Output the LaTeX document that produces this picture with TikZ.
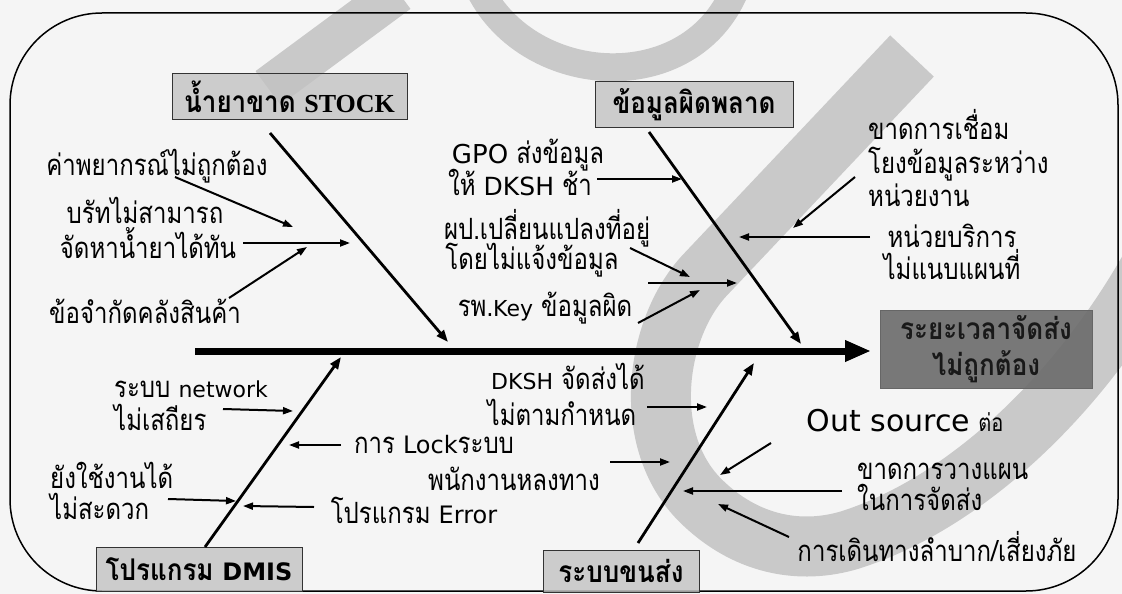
\documentclass[tikz,border=0pt]{standalone}
\usepackage{fontspec}
\usetikzlibrary{arrows.meta}
\newfontfamily\thai[Script=Thai]{Loma}
\newfontfamily\lat{DejaVu Sans}
\newfontfamily\romb{Liberation Serif}
% Thai runs are set a little taller than the font's natural shape
\newcommand{\tall}[1]{\scalebox{1}[1.22]{#1}}
\newcommand{\tallb}[1]{\scalebox{1}[1.15]{#1}}
\newcommand{\en}[2]{{\lat\fontsize{#1}{#1}\selectfont #2}}

\tikzset{
  wm/.style={draw=black!21, line cap=butt},
  txt/.style={font=\thai\fontsize{24}{28}\selectfont, inner sep=0pt, anchor=base},
  txtl/.style={txt, anchor=base west},
  catbox/.style={draw=black!80, line width=1pt, fill=black!24, fill opacity=0.8, text opacity=1,
    inner sep=0pt, font=\thai\bfseries\fontsize{26}{30}\selectfont},
  effbox/.style={draw=black!60, line width=0.6pt, fill=black!58, fill opacity=0.9, text opacity=1,
    inner sep=0pt, align=center, text=black!90, font=\thai\bfseries\fontsize{26}{36}\selectfont},
  spine/.style={line width=7pt, -{Triangle[length=26pt,width=20pt]}},
  bone/.style={line width=2.8pt, -{Triangle[length=12pt,width=9pt]}},
  sub/.style={line width=2pt, -{Triangle[length=10pt,width=7pt]}},
}

\begin{document}
\begin{tikzpicture}[x=1pt,y=-1pt]
\useasboundingbox (0,0) rectangle (1122,594);
\clip (0,0) rectangle (1122,594);
\fill[black!4] (0,0) rectangle (1122,594);

% background mark
\draw[wm, line width=42pt] (398,-8) -- (268,88);
\draw[wm, line width=28pt] (480,-10) .. controls (530,88) and (690,98) .. (735,-10);
\draw[wm, line width=60pt] (912,56) -- (705,275)
  .. controls (655,328) and (640,440) .. (700,500)
  .. controls (745,545) and (800,555) .. (850,540)
  .. controls (960,505) and (1080,400) .. (1160,250);

% frame
\draw[line width=1.5pt, rounded corners=92pt] (10,13) rectangle (1118,591);

% category boxes and effect
\node[catbox, minimum width=235pt, minimum height=45pt] (stock) at (289.5,96.5)
  {\tallb{น้ำยาขาด} {\romb\bfseries STOCK}};
\node[catbox, minimum width=198pt, minimum height=45pt] (data) at (694,104.5) {\tallb{ข้อมูลผิดพลาด}};
\node[catbox, minimum width=206pt, minimum height=44pt] (dmis) at (199,569) 
  {\tallb{โปรแกรม} {\lat\bfseries\fontsize{24}{28}\selectfont DMIS}};
\node[catbox, minimum width=156pt, minimum height=42pt] (trans) at (621,571) {\tallb{ระบบขนส่ง}};
\node[effbox, minimum width=212pt, minimum height=78pt] (eff) at (986,349)
  {\tallb{ระยะเวลาจัดส่ง}\\\tallb{ไม่ถูกต้อง}};

% spine
\coordinate (sp0) at (195,351);
\coordinate (sp1) at (871,351);
\draw[spine] (sp0) -- (sp1);

% bones
\coordinate (b1s) at (270,133); \coordinate (b1e) at (448,342);
\coordinate (b2s) at (649,132); \coordinate (b2e) at (801,344);
\coordinate (b3s) at (205,547); \coordinate (b3e) at (341,357);
\coordinate (b4s) at (638,543); \coordinate (b4e) at (754,363);
\draw[bone] (b1s) -- (b1e);
\draw[bone] (b2s) -- (b2e);
\draw[bone] (b3s) -- (b3e);
\draw[bone] (b4s) -- (b4e);

% causes: stock
\node[txt] (t1) at (157,175) {\tall{ค่าพยากรณ์ไม่ถูกต้อง}};
\node[txt] (t2a) at (145,223) {\tall{บรัทไม่สามารถ}};
\node[txt] (t2b) at (148,258) {\tall{จัดหาน้ำยาได้ทัน}};
\node[txt] (t3) at (145,323) {\tall{ข้อจำกัดคลังสินค้า}};
\coordinate (a1s) at (175,177); \coordinate (a1e) at (293,227);
\coordinate (a2s) at (243,243); \coordinate (a2e) at (350,243);
\coordinate (a3s) at (229,298); \coordinate (a3e) at (307,247);
\draw[sub] (a1s) -- (a1e);
\draw[sub] (a2s) -- (a2e);
\draw[sub] (a3s) -- (a3e);

% causes: data
\node[txt] (d1a) at (528,163) {\en{26}{GPO} \tall{ส่งข้อมูล}};
\node[txt] (d1b) at (520,195) {\tall{ให้} \en{25}{DKSH} \tall{ช้า}};
\node[txt] (d2a) at (547,239) {\tall{ผป.เปลี่ยนแปลงที่อยู่}};
\node[txt] (d2b) at (532,269) {\tall{โดยไม่แจ้งข้อมูล}};
\node[txt] (d3) at (545,316) {\tall{รพ.}\en{22}{Key} \tall{ข้อมูลผิด}};
\node[txtl] (r1a) at (868,139) {\tall{ขาดการเชื่อม}};
\node[txtl] (r1b) at (868,173) {\tall{โยงข้อมูลระหว่าง}};
\node[txtl] (r1c) at (868,206) {\tall{หน่วยงาน}};
\node[txt] (r2a) at (952,247) {\tall{หน่วยบริการ}};
\node[txt] (r2b) at (952,279) {\tall{ไม่แนบแผนที่}};
\coordinate (c1s) at (597,179); \coordinate (c1e) at (682,179);
\coordinate (c2s) at (630,248); \coordinate (c2e) at (690,277);
\coordinate (c3s) at (648,283); \coordinate (c3e) at (737,283);
\coordinate (c4s) at (638,323); \coordinate (c4e) at (700,290);
\coordinate (c5s) at (855,177); \coordinate (c5e) at (793,228);
\coordinate (c6s) at (870,237); \coordinate (c6e) at (739,237);
\draw[sub] (c1s) -- (c1e);
\draw[sub] (c2s) -- (c2e);
\draw[sub] (c3s) -- (c3e);
\draw[sub] (c4s) -- (c4e);
\draw[sub] (c5s) -- (c5e);
\draw[sub] (c6s) -- (c6e);

% causes: program
\node[txtl] (n1a) at (114,397) {\tall{ระบบ} \en{22}{network}};
\node[txtl] (n1b) at (114,430) {\tall{ไม่เสถียร}};
\node[txtl] (n2a) at (50,488) {\tall{ยังใช้งานได้}};
\node[txtl] (n2b) at (50,519) {\tall{ไม่สะดวก}};
\node[txt] (n3) at (434,453) {\tall{การ} \en{24}{Lock}\tall{ระบบ}};
\node[txt] (n4) at (414,523) {\tall{โปรแกรม} \en{24}{Error}};
\coordinate (e1s) at (223,409); \coordinate (e1e) at (293,411);
\coordinate (e2s) at (341,445); \coordinate (e2e) at (289,445);
\coordinate (e3s) at (168,499); \coordinate (e3e) at (236,501);
\coordinate (e4s) at (314,507); \coordinate (e4e) at (243,506);
\draw[sub] (e1s) -- (e1e);
\draw[sub] (e2s) -- (e2e);
\draw[sub] (e3s) -- (e3e);
\draw[sub] (e4s) -- (e4e);

% causes: transport
\node[txt] (k1a) at (568,389) {\en{22}{DKSH} \tall{จัดส่งได้}};
\node[txt] (k1b) at (562,425) {\tall{ไม่ตามกำหนด}};
\node[txt] (k2) at (514,490) {\tall{พนักงานหลงทาง}};
\node[txt] (k3) at (905,431) {\en{30}{Out source} {\fontsize{20}{24}\selectfont\tall{ต่อ}}};
\node[txtl] (k4a) at (857,479) {\tall{ขาดการวางแผน}};
\node[txtl] (k4b) at (857,510) {\tall{ในการจัดส่ง}};
\node[txt] (k5) at (937,561) {\tall{การเดินทางลำบาก/เสี่ยงภัย}};
\coordinate (f1s) at (647,407); \coordinate (f1e) at (707,407);
\coordinate (f2s) at (610,462); \coordinate (f2e) at (670,462);
\coordinate (f3s) at (771,443); \coordinate (f3e) at (720,475);
\coordinate (f4s) at (842,491); \coordinate (f4e) at (683,491);
\coordinate (f5s) at (789,537); \coordinate (f5e) at (718,504);
\draw[sub] (f1s) -- (f1e);
\draw[sub] (f2s) -- (f2e);
\draw[sub] (f3s) -- (f3e);
\draw[sub] (f4s) -- (f4e);
\draw[sub] (f5s) -- (f5e);
\end{tikzpicture}
\end{document}
